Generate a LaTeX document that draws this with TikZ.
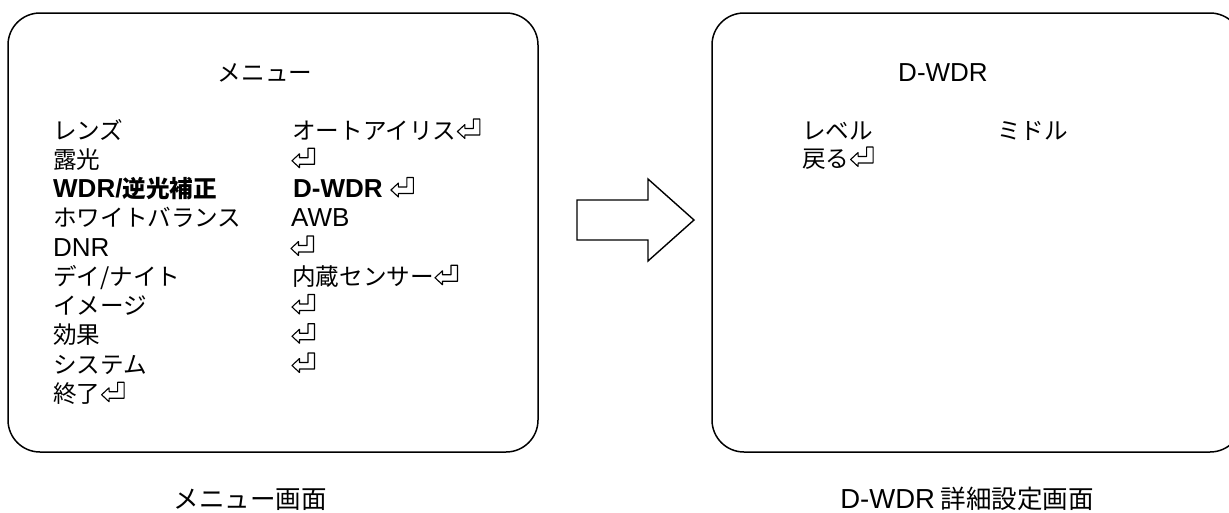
\documentclass[tikz,border=0pt]{standalone}
\usepackage{fontspec}
\setmainfont{Noto Sans CJK JP}
\newfontfamily\latfam{Liberation Sans}
\newcommand\latn[1]{{\latfam\fontsize{26}{30}\selectfont #1}}
\newcommand\latcap[1]{{\latfam\fontsize{27.5}{32}\selectfont #1}}
\tikzset{
  panel/.style={draw, line width=1.5pt, rounded corners=32pt, inner sep=0pt},
  item/.style={anchor=base west, inner sep=0pt, font=\fontsize{23.6}{28}\selectfont},
  boldItem/.style={item, font=\fontsize{23.6}{28}\selectfont\bfseries},
  ttl/.style={anchor=base, inner sep=0pt, font=\fontsize{23.6}{28}\selectfont},
  captext/.style={anchor=base, inner sep=0pt, font=\fontsize{25.5}{30}\selectfont},
  blockarrow/.style={draw, line width=1.4pt, line join=miter},
  retarrow/.pic={
    \draw[line width=1.1pt, line join=round]
      (1,-7.5) -- (8.5,-14.5) -- (8.5,-10.5) -- (17,-10.5) -- (17,-20) -- (23.5,-20)
      -- (23.5,-4) -- (8.5,-4) -- (8.5,-0.5) -- cycle;
  }
}
\begin{document}
\begin{tikzpicture}[x=1pt,y=-1pt]
\clip (0,0) rectangle (1229,512);
% panels
\node[panel, minimum width=530pt, minimum height=439pt] (menu) at (273,232.5) {};
\node[panel, minimum width=530pt, minimum height=439pt] (detail) at (977,232.5) {};
% block arrow between panels
\draw[blockarrow] (577,200) -- (648,200) -- (648,179) -- (694,220)
  -- (648,261) -- (648,240) -- (577,240) -- cycle;
% left panel
\node[ttl] (mtitle) at (265,81) {メニュー};
\node[item] (l1) at (53,139) {レンズ};
\node[item] (v1) at (292,139) {オートアイリス};
\pic at (v1.base east) {retarrow};
\node[item] (l2) at (53,168.25) {露光};
\coordinate (v2) at (291,168.25);
\pic at (v2) {retarrow};
\node[boldItem] (l3) at (53,197.5) {\latn{WDR/}逆光補正};
\node[boldItem] (v3) at (293,197.5) {\latn{D-WDR}};
\coordinate (v3r) at ([xshift=7pt]v3.base east);
\pic at (v3r) {retarrow};
\node[item] (l4) at (53,226.75) {ホワイトバランス};
\node[item] (v4) at (291,226.75) {\latn{AWB}};
\node[item] (l5) at (53,256) {\latn{DNR}};
\coordinate (v5) at (290,256);
\pic at (v5) {retarrow};
\node[item] (l6) at (53,285.25) {デイ/ナイト};
\node[item] (v6) at (292,285.25) {内蔵センサー};
\pic at (v6.base east) {retarrow};
\node[item] (l7) at (53,314.5) {イメージ};
\coordinate (v7) at (291,314.5);
\pic at (v7) {retarrow};
\node[item] (l8) at (53,343.75) {効果};
\coordinate (v8) at (291,343.75);
\pic at (v8) {retarrow};
\node[item] (l9) at (53,373) {システム};
\coordinate (v9) at (291,373);
\pic at (v9) {retarrow};
\node[item] (l10) at (53,402.25) {終了};
\pic at (l10.base east) {retarrow};
% right panel
\node[ttl] (dtitle) at (943,81) {\latn{D-WDR}};
\node[item] (r1) at (802,139) {レベル};
\node[item] (r1v) at (997,139) {ミドル};
\node[item] (r2) at (802,167) {戻る};
\pic at (r2.base east) {retarrow};
% captions
\node[captext] (cap1) at (250,508.5) {メニュー画面};
\node[captext] (cap2) at (967,508.5) {\latcap{D-WDR} 詳細設定画面};
\end{tikzpicture}
\end{document}
